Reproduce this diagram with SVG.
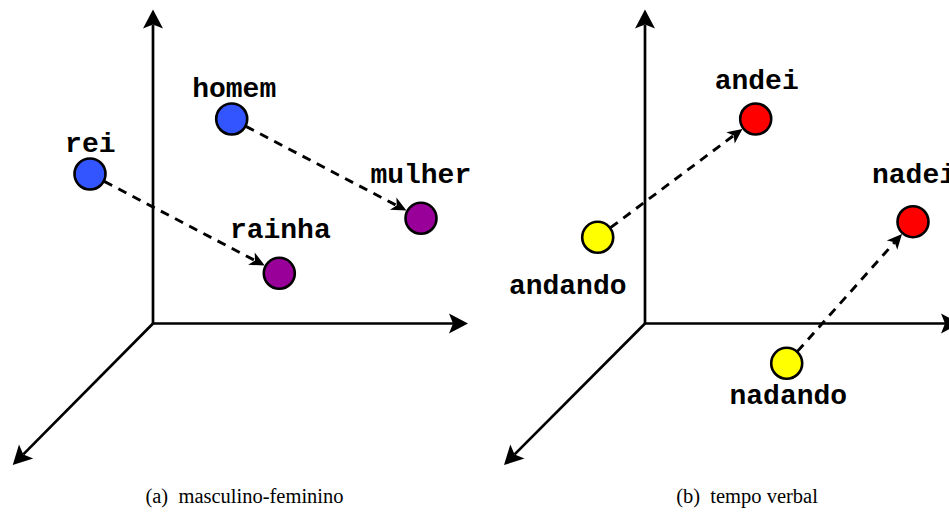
<svg xmlns="http://www.w3.org/2000/svg" width="949" height="528" viewBox="0 0 949 528">
<style>
.axis{stroke:#000;stroke-width:2.7;fill:none;marker-end:url(#ah)}
.dash{stroke:#000;stroke-width:2.9;fill:none;stroke-dasharray:9 7;marker-end:url(#dh)}
.pt{stroke:#000;stroke-width:2.6}
.blue{fill:#3355ff}.purple{fill:#990099}.red{fill:#ff0000}.yellow{fill:#ffff00}
.lbl{font-family:"Liberation Mono","Courier New",monospace;font-weight:bold;font-size:28px;text-anchor:middle;fill:#000}
.cap{font-family:"Liberation Serif","Times New Roman",serif;font-size:20.5px;text-anchor:middle;fill:#000}
</style>
<defs>
<marker id="ah" markerUnits="userSpaceOnUse" viewBox="-20 -11 21 22" markerWidth="21" markerHeight="22" refX="-15" refY="0" orient="auto">
<path d="M0,0 L-19,-10 L-15,0 L-19,10 Z" fill="#000"/>
</marker>
<marker id="dh" markerUnits="userSpaceOnUse" viewBox="-16 -8 17 16" markerWidth="17" markerHeight="16" refX="-11" refY="0" orient="auto">
<path d="M0,0 L-15,-7 L-11,0 L-15,7 Z" fill="#000"/>
</marker>
</defs>
<g id="axes-a">
<line class="axis" x1="153" y1="323.5" x2="153" y2="24.5"/>
<line class="axis" x1="153" y1="323.5" x2="453" y2="323.5"/>
<line class="axis" x1="153" y1="323.5" x2="23.3" y2="454.4"/>
</g>
<g id="axes-b">
<line class="axis" x1="645" y1="323.5" x2="645" y2="24.5"/>
<line class="axis" x1="645" y1="323.5" x2="945" y2="323.5"/>
<line class="axis" x1="645" y1="323.5" x2="514.6" y2="454.4"/>
</g>
<g id="connectors">
<line class="dash" x1="104.2" y1="181.4" x2="255" y2="260.5"/>
<line class="dash" x1="245.9" y1="126.4" x2="396.7" y2="205.5"/>
<line class="dash" x1="610.5" y1="227.7" x2="733.7" y2="135.5"/>
<line class="dash" x1="797.4" y1="351.4" x2="894.7" y2="242.2"/>
</g>
<g id="rei"><circle class="pt blue" cx="90" cy="174" r="15.5"/><text class="lbl" x="90.3" y="151.7">rei</text></g>
<g id="homem"><circle class="pt blue" cx="231.7" cy="119" r="15.5"/><text class="lbl" x="234.2" y="96.7">homem</text></g>
<g id="rainha"><circle class="pt purple" cx="279.3" cy="273.3" r="15.5"/><text class="lbl" x="280.3" y="238.3">rainha</text></g>
<g id="mulher"><circle class="pt purple" cx="421" cy="218.3" r="15.5"/><text class="lbl" x="420.8" y="183.3">mulher</text></g>
<g id="andando"><circle class="pt yellow" cx="597.7" cy="237.3" r="15.5"/><text class="lbl" x="567.7" y="294">andando</text></g>
<g id="andei"><circle class="pt red" cx="755.7" cy="119" r="15.5"/><text class="lbl" x="756.7" y="89.3">andei</text></g>
<g id="nadando"><circle class="pt yellow" cx="786.7" cy="363.3" r="15.5"/><text class="lbl" x="788.3" y="404.3">nadando</text></g>
<g id="nadei"><circle class="pt red" cx="913" cy="221.7" r="15.5"/><text class="lbl" x="914" y="183.3">nadei</text></g>
<g id="captions">
<text class="cap" x="244.5" y="503" xml:space="preserve">(a)  masculino-feminino</text>
<text class="cap" x="747" y="503" xml:space="preserve">(b)  tempo verbal</text>
</g>
</svg>
